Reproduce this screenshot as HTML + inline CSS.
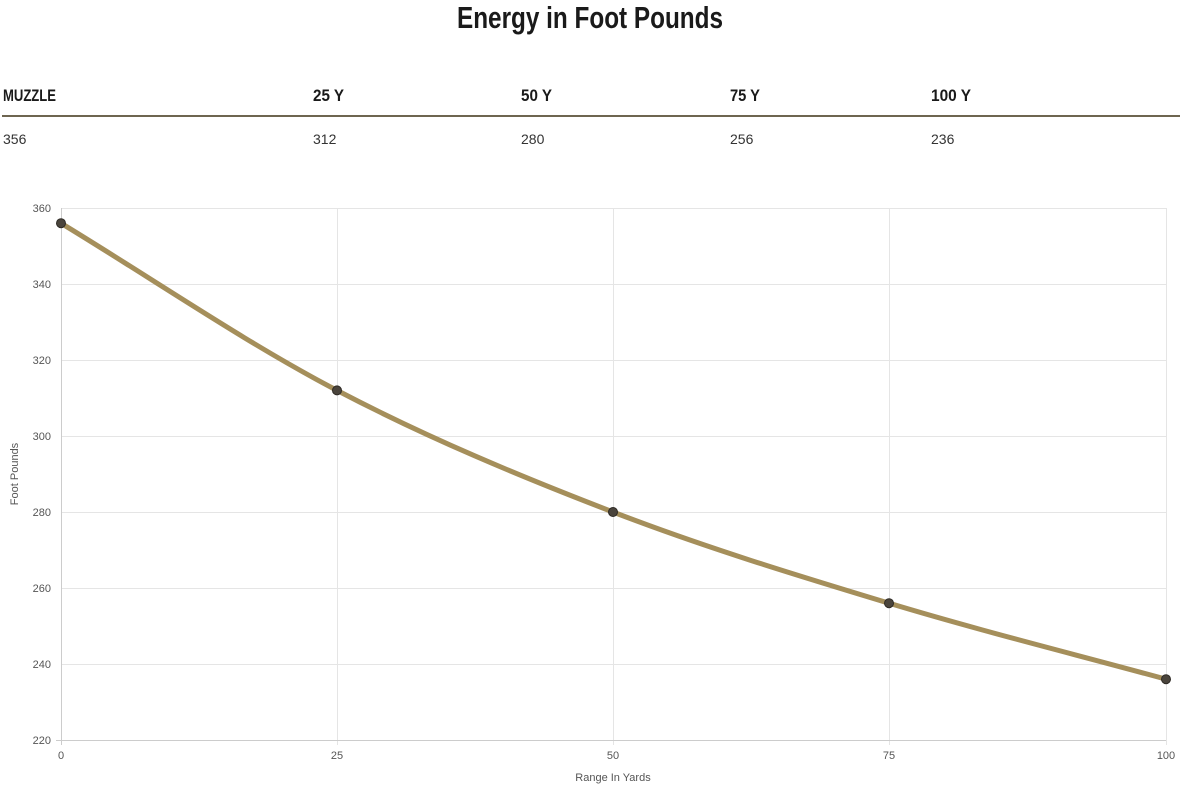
<!DOCTYPE html>
<html><head><meta charset="utf-8"><style>
html,body{margin:0;padding:0;background:#fff;}
svg{display:block;}
</style></head><body>
<svg width="1182" height="787" viewBox="0 0 1182 787" xmlns="http://www.w3.org/2000/svg">
<text x="590" y="28" text-anchor="middle" font-family="Liberation Sans Narrow, Liberation Sans, sans-serif" font-weight="bold" font-size="31" fill="#1a1a1a" textLength="266" lengthAdjust="spacingAndGlyphs">Energy in Foot Pounds</text>
<g font-family="Liberation Sans Narrow, Liberation Sans, sans-serif" font-weight="bold" font-size="17" fill="#1a1a1a">
<text x="3" y="101" textLength="53" lengthAdjust="spacingAndGlyphs">MUZZLE</text>
<text x="313" y="101" textLength="31" lengthAdjust="spacingAndGlyphs">25 Y</text>
<text x="521" y="101" textLength="31" lengthAdjust="spacingAndGlyphs">50 Y</text>
<text x="730" y="101" textLength="30" lengthAdjust="spacingAndGlyphs">75 Y</text>
<text x="931" y="101" textLength="40" lengthAdjust="spacingAndGlyphs">100 Y</text>
</g>
<rect x="2" y="115" width="1178" height="2" fill="#6e6550"/>
<g font-family="Liberation Sans, sans-serif" font-size="14" fill="#333">
<text x="3" y="144">356</text><text x="313" y="144">312</text><text x="521" y="144">280</text><text x="730" y="144">256</text><text x="931" y="144">236</text>
</g>
<g stroke="#e5e5e5" stroke-width="1">
<line x1="61" y1="208.5" x2="1166" y2="208.5"/><line x1="61" y1="284.5" x2="1166" y2="284.5"/>
<line x1="61" y1="360.5" x2="1166" y2="360.5"/><line x1="61" y1="436.5" x2="1166" y2="436.5"/>
<line x1="61" y1="512.5" x2="1166" y2="512.5"/><line x1="61" y1="588.5" x2="1166" y2="588.5"/>
<line x1="61" y1="664.5" x2="1166" y2="664.5"/>
<line x1="337.5" y1="208" x2="337.5" y2="745"/><line x1="613.5" y1="208" x2="613.5" y2="745"/>
<line x1="889.5" y1="208" x2="889.5" y2="745"/><line x1="1166.5" y1="208" x2="1166.5" y2="745"/>
</g>
<g stroke="#ccc"><line x1="61.5" y1="208" x2="61.5" y2="745"/><line x1="56" y1="740.5" x2="1166" y2="740.5"/></g>
<g font-family="Liberation Sans, sans-serif" font-size="11" fill="#555" text-anchor="end">
<text x="51" y="212">360</text><text x="51" y="288">340</text><text x="51" y="364">320</text><text x="51" y="440">300</text>
<text x="51" y="516">280</text><text x="51" y="592">260</text><text x="51" y="668">240</text><text x="51" y="744">220</text>
</g>
<g font-family="Liberation Sans, sans-serif" font-size="11" fill="#555" text-anchor="middle">
<text x="61" y="759">0</text><text x="337" y="759">25</text><text x="613" y="759">50</text><text x="889" y="759">75</text><text x="1166" y="759">100</text>
<text x="613" y="781">Range In Yards</text>
<text transform="translate(18,474) rotate(-90)">Foot Pounds</text>
</g>
<path d="M61,223.2 C153,279 245,342.3 337,390.4 C429,438.5 521,476.6 613,512 C705,547.4 797,575.4 889,603.2 C981,631 1074,654 1166,679.2" fill="none" stroke="#a58f5b" stroke-width="5" stroke-linecap="round"/>
<g fill="#4a443c" stroke="#2e2a25" stroke-width="1">
<circle cx="61" cy="223.2" r="4.5"/><circle cx="337" cy="390.4" r="4.5"/><circle cx="613" cy="512" r="4.5"/><circle cx="889" cy="603.2" r="4.5"/><circle cx="1166" cy="679.2" r="4.5"/>
</g>
</svg>
</body></html>
